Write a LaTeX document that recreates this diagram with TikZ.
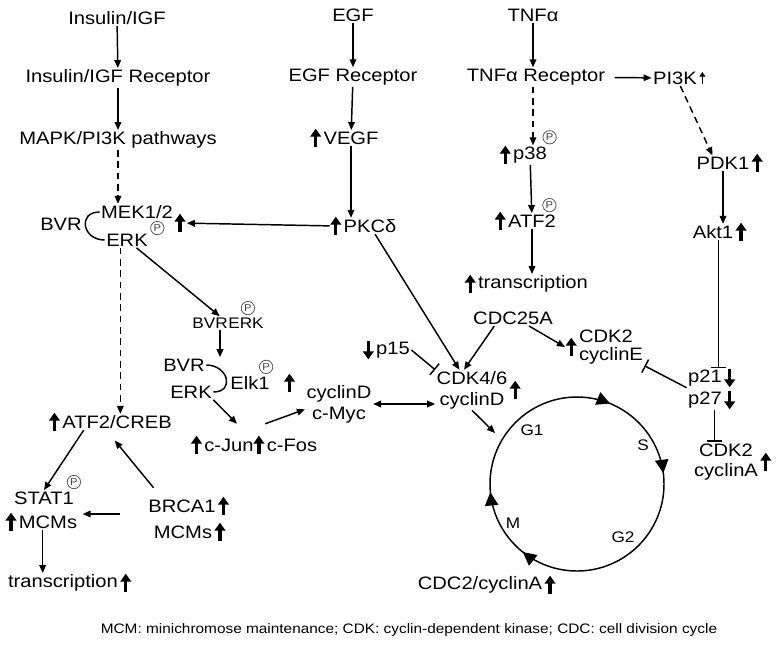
\documentclass[tikz,border=0pt]{standalone}
\usepackage{fontspec}
\setmainfont[FakeStretch=1.12]{Liberation Sans}
\usetikzlibrary{arrows.meta}
\usetikzlibrary{decorations.markings}

\newcommand{\uparr}{\tikz[baseline=0pt]\draw[line width=2.4pt,-{Triangle[length=6pt,width=8pt]}] (0pt,-1.5pt) -- (0pt,12.5pt);}
\newcommand{\dnarr}{\tikz[baseline=0pt]\draw[line width=2.4pt,-{Triangle[length=6pt,width=8pt]}] (0pt,11pt) -- (0pt,-3pt);}
\newcommand{\smuparr}{\tikz[baseline=0pt]\draw[line width=1.3pt,-{Triangle[length=3.5pt,width=4.5pt]}] (0pt,0pt) -- (0pt,9pt);}
\newcommand{\phos}{\tikz\node[circle,draw=black!65,line width=0.6pt,inner sep=0pt,minimum size=10pt,anchor=center,text=black!75,font=\fontsize{7.5}{7.5}\selectfont]{P};}

\begin{document}
\begin{tikzpicture}[x=0.75pt,y=-0.75pt,
     every node/.style={inner sep=1pt,font=\fontsize{13.5}{15.5}\selectfont},
     lbl/.style={inner sep=0.5pt},
     upl/.style={label={[lbl]left:\uparr}},
     upr/.style={label={[lbl]right:\uparr}},
     dnl/.style={label={[lbl]left:\dnarr}},
     dnr/.style={label={[lbl]right:\dnarr}},
     pho/.style={label={[lbl]#1:\phos}},
     phase/.style={font=\fontsize{11.5}{13}\selectfont},
     act/.style={line width=1.1pt,-{Triangle[length=6pt,width=5pt]}},
     dashes/.style={dash pattern=on 5pt off 3.5pt},
     dbl/.style={line width=1.1pt,{Triangle[length=6pt,width=5pt]}-{Triangle[length=6pt,width=5pt]}},
     inh/.style={line width=1.1pt,-{Bar[width=11pt,line width=1.1pt]}},
     cyctip/.style={decoration={markings,
       mark=at position 0.357 with {\arrow{Triangle[length=10pt,width=10pt]}},
       mark=at position 0.485 with {\arrow{Triangle[length=10pt,width=10pt]}},
       mark=at position 0.812 with {\arrow{Triangle[length=10pt,width=10pt]}},
       mark=at position 0.98 with {\arrow{Triangle[length=10pt,width=10pt]}}},
       postaction={decorate}}
   ]
   \useasboundingbox (0,0) rectangle (780,644);
   % Receptors.
   \node (ins) at (117,18) {Insulin/IGF};
   \node (insr) at (118,78) {Insulin/IGF Receptor};
   \node (mapk) at (118,140) {MAPK/PI3K pathways};
   \node (egf) at (353,15) {EGF};
   \node (egfr) at (353,77) {EGF Receptor};
   \node[upl] (vegf) at (351,138) {VEGF};
   \node (tnf) at (533,15) {TNFα};
   \node (tnfr) at (536,77) {TNFα Receptor};
   \node[label={[lbl]right:\smuparr}] (pi3k) at (675,78) {PI3K};
   \node[upl,pho=40] (p38) at (530,155) {p38};
   \node[upl,pho=40] (atf2) at (532,221) {ATF2};
   \node[upl] (trans) at (533,284) {transcription};
   \node[upr] (pdk1) at (723,163) {PDK1};
   \node[upr] (akt) at (713,232) {Akt1};
   % MEK/ERK complex.
   \node (mek) at (137,212) {MEK1/2};
   \node[pho=10] (erk) at (127,240) {ERK};
   \node (bvr) at (61,224) {BVR};
   \node (mekup) at (180,223) {\uparr};
   \node[label={[lbl,name=pkcup]left:\uparr}] (pkc) at (370,226) {PKCδ};
   \node[pho=30,font=\fontsize{11.5}{13}\selectfont] (bvrerk) at (228,323) {BVR\kern0.5pt ERK};
   \node (bvr2) at (184,365) {BVR};
   \node (erk2) at (191,392) {ERK};
   \node[pho=45,label={[lbl,label distance=9pt]right:\uparr}] (elk) at (250,383) {Elk1};
   \node[upl] (jun) at (229,445) {c-Jun};
   \node[upl] (fos) at (292,445) {c-Fos};
   \node[align=center] (cycmyc) at (339,404) {cyclinD\\c-Myc};
   % Cell cycle regulators.
   \node[align=center,upr] (cdk46) at (472,390) {CDK4/6\\cyclinD};
   \node[dnl] (p15) at (393,350) {p15};
   \node (cdc25) at (513,318) {CDC25A};
   \node[align=left,label={[lbl,name=cdk2eup]left:\uparr}] (cdk2e) at (611,347) {CDK2\\[-2pt]cyclinE};
   \node[dnr] (p21) at (705,378) {p21};
   \node[dnr] (p27) at (705,400) {p27};
   \node[align=center,upr] (cdk2a) at (726,462) {CDK2\\cyclinA};
   \node[upr] (cdc2) at (480,585) {CDC2/cyclinA};
   % Left branch.
   \node[upl] (atfcreb) at (117,422) {ATF2/CREB};
   \node[pho=20] (stat1) at (44,498) {STAT1};
   \node[upl] (mcm1) at (48,522) {MCMs};
   \node[upr] (brca) at (182,506) {BRCA1};
   \node[upr] (mcm2) at (183,532) {MCMs};
   \node[upr] (trans2) at (63,583) {transcription};
   % Cycle.
   \coordinate (cc) at (577,484);
   \coordinate (g1in) at (495,433);
   \draw[line width=1.1pt,cyctip] (cc) circle [radius=87];
   \node[phase] (g1) at (532,430) {G1};
   \node[phase] (s) at (643,445) {S};
   \node[phase] (g2) at (623,537) {G2};
   \node[phase] (m) at (513,523) {M};
   \node[font=\fontsize{10.3}{12}\selectfont] (note) at (409,630) {MCM: minichromose maintenance; CDK: cyclin-dependent kinase; CDC: cell division cycle};
   % Pointers.
   \draw[act] (ins) -- (insr);
   \draw[act] (insr) -- (mapk);
   \draw[act,dashes] (mapk) -- (mapk |- mek.north);
   \draw[act] (egf) -- (egfr);
   \draw[act] (egfr) -- (vegf);
   \draw[act] (vegf) -- (vegf |- pkc.north);
   \draw[act] (pkcup) -- (mekup);
   \draw[act] (pkc) -- (cdk46);
   \draw[act] (tnf) -- (tnf |- tnfr.north);
   \draw[act,shorten <=6pt] (tnfr) -- (pi3k);
   \draw[act,dashes] (tnf |- tnfr.south) -- (tnf |- p38.north);
   \draw[act] (p38) -- (atf2);
   \draw[act] (atf2) -- (atf2 |- trans.north);
   \draw[act,dashes] ([xshift=4pt]pi3k.south) -- ([xshift=-8pt]pdk1.north);
   \draw[act] (pdk1.south) -- (pdk1.south |- akt.north);
   \draw[inh] ([xshift=4pt]akt.south) -- ([xshift=4pt]akt.south |- p21.north);
   \draw[inh] ([xshift=7pt]p27.south) -- ([xshift=7pt]p27.south |- cdk2a.north);
   \draw[inh] (p21.south west) -- (cdk2e.south east);
   \draw[line width=1.1pt] (mek.west) to[out=180,in=180,looseness=2] (erk.west);
   \draw[line width=1.1pt] (bvr2.east) to[out=0,in=0,looseness=2] (erk2.east);
   \draw[act] (erk) -- (bvrerk);
   \draw[act,dashes] ([xshift=-5pt]erk.south) -- ([xshift=-5pt]erk.south |- atfcreb.north);
   \draw[act] ([xshift=-6pt]bvrerk.south) -- ([xshift=-6pt]bvrerk.south |- bvr2.north);
   \draw[act] (erk2.south east) -- ([xshift=6pt,yshift=10pt]jun.north);
   \draw[act] ([yshift=10pt]fos.north west) -- ([yshift=-4pt]cycmyc.west);
   \draw[dbl] (cycmyc.east) -- (cycmyc.east -| cdk46.west);
   \draw[inh] (p15.east) -- (cdk46.north west);
   \draw[act] ([xshift=-14pt]cdc25.south) -- ([xshift=-6pt]cdk46.north);
   \draw[act] ([xshift=12pt]cdc25.south) -- (cdk2eup.west);
   \draw[act] (cdk46.south) -- (g1in);
   \draw[act] ([xshift=-25pt]atfcreb.south) -- (stat1.north);
   \draw[act,shorten <=10pt,shorten >=10pt] ([xshift=-15pt]brca.north) -- ([xshift=-8pt]atfcreb.south);
   \draw[act,shorten <=20pt,shorten >=3pt] (brca.south west) -- (mcm1.east |- brca.south west);
   \draw[act] ([xshift=-4pt]mcm1.south) -- ([xshift=-4pt]mcm1.south |- trans2.north);
 \end{tikzpicture}
\end{document}
